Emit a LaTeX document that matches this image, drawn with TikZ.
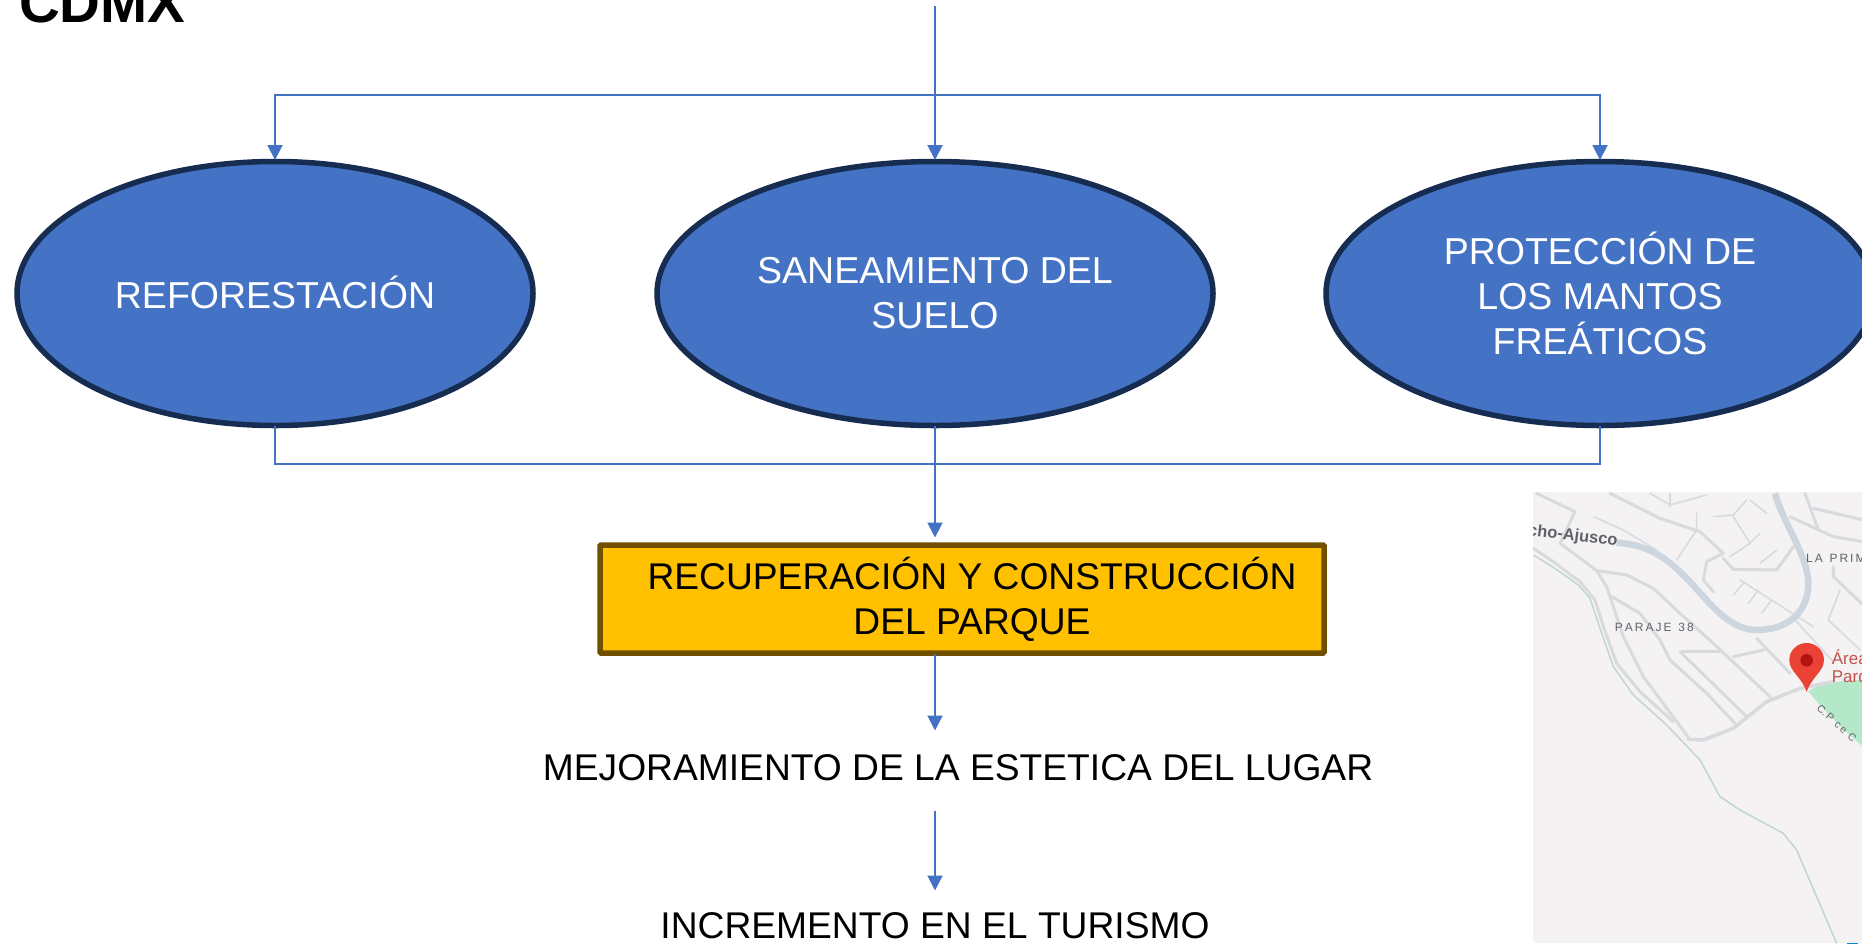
\documentclass[tikz,border=0pt]{standalone}
\usepackage{fontspec}
\setmainfont{Liberation Sans}
\usetikzlibrary{shapes.geometric,arrows.meta}
\definecolor{blueF}{HTML}{4472C4}
\definecolor{blueD}{HTML}{172C51}
\definecolor{goldF}{HTML}{FFC000}
\definecolor{goldD}{HTML}{705000}
\definecolor{mapbg}{HTML}{F4F2F3}
\definecolor{mainrd}{HTML}{CDD6DE}
\definecolor{rd}{HTML}{D9DADE}
\definecolor{rdgreen}{HTML}{C0D8CC}
\definecolor{parkg}{HTML}{B5E8C8}
\definecolor{pinr}{HTML}{EA4335}
\definecolor{pind}{HTML}{B31412}
\definecolor{maptxt}{HTML}{5F6368}
\definecolor{mapred}{HTML}{C5524A}
\tikzset{
  x=1pt,y=-1pt,
  oval/.style={ellipse,draw=blueD,fill=blueF,line width=5.5pt,inner sep=0pt,outer sep=0pt,minimum height=264pt,text=white,align=center,font=\fontsize{37.5}{45}\selectfont},
  conn/.style={draw=blueF,line width=2pt},
  flow/.style={conn,-{Triangle[length=15pt,width=15pt]},shorten >=1.5pt},
  goldbox/.style={rectangle,draw=goldD,fill=goldF,line width=5.5pt,rounded corners=1pt,inner sep=0pt,outer sep=0pt,minimum width=724pt,minimum height=108pt},
  plain/.style={inner sep=0pt,align=center,text=black,font=\fontsize{37.2}{45}\selectfont},
  road/.style={draw=rd,line width=3pt,line join=round,line cap=round},
  road2/.style={draw=rd,line width=1.6pt,line join=round,line cap=round},
  mainroad/.style={draw=mainrd,line width=6.5pt,line join=round},
}
\begin{document}
\begin{tikzpicture}
\useasboundingbox (0,0) rectangle (1862,943);
\fill[white] (0,0) rectangle (1862,943);
% title
\node[anchor=base west,inner sep=0pt,font=\fontsize{56.5}{60}\selectfont\bfseries] (title) at (19,22.5) {CDMX};
% ovals
\node[oval,minimum width=516pt] (e1) at (275,293.5) {\raisebox{2pt}{REFORESTACIÓN}};
\node[oval,minimum width=556pt] (e2) at (935,293.5) {\raisebox{-1pt}{SANEAMIENTO DEL}\\\raisebox{-1pt}{SUELO}};
\node[oval,minimum width=548pt] (e3) at (1600,293.5) {\raisebox{1pt}{PROTECCIÓN DE}\\\raisebox{1pt}{LOS MANTOS}\\\raisebox{1pt}{FREÁTICOS}};
% gold box
\node[goldbox] (box) at (962,599) {};
\node[plain] (boxtxt) at (972,599) {RECUPERACIÓN Y CONSTRUCCIÓN\\DEL PARQUE};
% plain texts
\node[plain] (mej) at (958,768) {MEJORAMIENTO DE LA ESTETICA DEL LUGAR};
\node[plain] (inc) at (935,926) {INCREMENTO EN EL TURISMO};
% junctions
\coordinate (top) at (935,6);
\coordinate (jt) at (935,95);
\coordinate (jb) at (935,464);
\coordinate (boxin) at (935,539);
\coordinate (boxout) at (935,654);
\coordinate (mejin) at (935,732);
\coordinate (mejout) at (935,811);
\coordinate (incin) at (935,892);
\draw[flow] (top) -- (e2.north);
\draw[flow] (jt) -| (e1.north);
\draw[flow] (jt) -| (e3.north);
\draw[conn] (e1.south) |- (jb);
\draw[conn] (e3.south) |- (jb);
\draw[flow] (e2.south) -- (boxin);
\draw[flow] (boxout) -- (mejin);
\draw[flow] (mejout) -- (incin);
% map
\fill[mapbg] (1533,492) rectangle (1862,943);
\begin{scope}
\clip (1533,492) rectangle (1862,943);
\begin{scope}[shift={(1500,480)},x=0.3333pt,y=-0.3333pt]
% park
\fill[parkg] (925,635) .. controls (950,612) and (1020,600) .. (1090,600) -- (1090,800) .. controls (1040,760) and (980,700) .. (925,635) -- cycle;
% roads
\draw[road] (100,205) -- (160,245) -- (240,305) -- (285,360) -- (312,445) -- (350,550) -- (420,635) -- (520,725);
\draw[road] (180,190) -- (290,272) -- (320,320) -- (370,470) -- (430,590) -- (565,772);
\draw[road,line width=3.6pt] (565,778) -- (610,780) -- (700,745) -- (800,665) -- (900,625) -- (1000,605);
\draw[road] (290,272) -- (380,285) -- (460,325) -- (540,400) -- (640,490) -- (810,650);
\draw[road] (335,350) -- (420,400) -- (480,480) -- (510,540) -- (620,640) -- (705,730);
\draw[road] (540,515) -- (740,710);
\draw[road] (545,515) -- (660,515);
\draw[road] (700,530) -- (790,510);
\draw[road] (770,475) -- (870,580);
\draw[road] (110,40) -- (225,95) -- (180,190);
\draw[road] (330,40) -- (480,115) -- (600,155) -- (670,220) -- (620,245) -- (610,300) -- (640,335);
\draw[road] (670,235) -- (700,268) -- (830,270) -- (880,200);
\draw[road2] (640,110) -- (700,105) -- (740,60);
\draw[road2] (700,110) -- (750,190) -- (780,160);
\draw[road2] (690,230) -- (750,190);
\draw[road2] (450,40) -- (510,75) -- (620,45);
\draw[road2] (510,40) -- (510,80);
\draw[road2] (590,100) -- (590,150) -- (530,240);
\draw[road2] (280,110) -- (370,150) -- (470,210);
\draw[road2] (750,60) -- (800,100);
\draw[road2] (830,210) -- (780,250);
\draw[road2] (720,300) -- (940,440);
\draw[road2] (730,310) -- (700,345);
\draw[road2] (775,330) -- (745,370);
\draw[road2] (815,360) -- (785,400);
\draw[road] (870,110) -- (1000,170) -- (1090,185);
\draw[road] (915,40) -- (955,150);
\draw[road] (940,85) -- (1090,120);
\draw[road] (1000,260) -- (1000,290) -- (1090,375);
\draw[road2] (1020,330) -- (985,420) -- (1080,510);
\draw[road2] (885,420) -- (1000,545);
% river line
\draw[rdgreen,line width=1.5pt,line join=round] (100,225) -- (160,262) -- (235,315) -- (270,355) -- (300,445) -- (340,560) -- (400,645) -- (500,735) -- (600,840) -- (660,950) -- (720,990) -- (850,1060) -- (890,1110) -- (950,1250) -- (1010,1390);
% main road
\draw[mainroad] (350,188) .. controls (450,195) and (500,235) .. (560,295) .. controls (620,355) and (680,450) .. (770,450) .. controls (860,450) and (925,400) .. (925,310) .. controls (925,230) and (850,130) .. (825,40);
% labels
\node[anchor=west,rotate=-7,text=maptxt,inner sep=0pt,font=\fontsize{16.5}{16}\selectfont\bfseries] (l1) at (84,153) {cho-Ajusco};
\node[text=maptxt,inner sep=0pt,font=\fontsize{12}{12}\selectfont,anchor=center] (l2) at (463,442) {P\,A\,R\,A\,J\,E\ \ 3\,8};
\node[anchor=west,text=maptxt,inner sep=0pt,font=\fontsize{12}{12}\selectfont] (l3) at (918,235) {L\,A\ \ P\,R\,I\,M};
\node[anchor=west,rotate=-42,text=maptxt,inner sep=0pt,font=\fontsize{10.5}{10}\selectfont] (l4) at (955,680) {C.\,P\ \,c\,e\ \,C};
\node[anchor=base west,text=mapred,inner sep=0pt,font=\fontsize{17}{17}\selectfont] (l5) at (995,555) {Área};
\node[anchor=base west,text=mapred,inner sep=0pt,font=\fontsize{17}{17}\selectfont] (l6) at (995,608) {Parque};
% pin
\fill[pinr] (920,636) .. controls (905,590) and (868,575) .. (868,540) .. controls (868,510) and (893,489) .. (920,489) .. controls (947,489) and (972,510) .. (972,540) .. controls (972,575) and (935,590) .. (920,636) -- cycle;
\fill[pind] (920,541) circle [radius=19];
% bottom speck
\fill[cyan!70!blue] (1040,1388) rectangle (1075,1400);
\end{scope}
\end{scope}
\end{tikzpicture}
\end{document}
